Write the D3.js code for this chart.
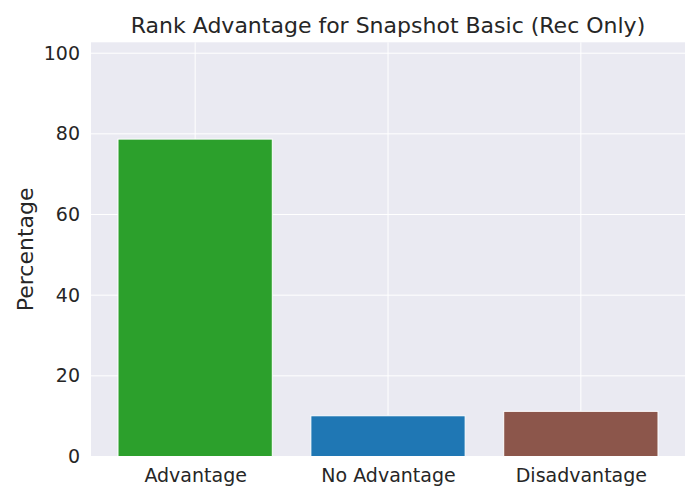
<!DOCTYPE html>
<html>
<head>
<meta charset="utf-8">
<script src="https://cdn.jsdelivr.net/npm/d3@7"></script>
<style>
  body { margin: 0; background: #fff; }
  text { font-family: "DejaVu Sans", sans-serif; fill: #262626; }
</style>
</head>
<body>
<div id="vis"></div>
<script>
var categories = ['Advantage', 'No Advantage', 'Disadvantage'];
var values = [78.7, 10.1, 11.2];
var colors = ['#2ca02c', '#1f77b4', '#8c564b'];
var yTicks = [0, 20, 40, 60, 80, 100];
var yMax = 102.7;

var width = 700, height = 500;
var margin = {left: 91, right: 15, top: 42.3, bottom: 43.5};

var svg = d3.select('#vis').append('svg')
    .attr('width', width)
    .attr('height', height);

// x like matplotlib: bars of width 0.8 at 0,1,2 with 5% margins
var x = d3.scaleLinear()
    .domain([-0.54, categories.length - 1 + 0.54])
    .range([margin.left, width - margin.right]);

var y = d3.scaleLinear()
    .domain([0, yMax])
    .range([height - margin.bottom, margin.top]);

svg.append('rect')
    .attr('x', margin.left)
    .attr('y', margin.top)
    .attr('width', width - margin.left - margin.right)
    .attr('height', height - margin.top - margin.bottom)
    .attr('fill', '#eaeaf2');

// grid
var grid = svg.append('g').attr('stroke', '#fff').attr('stroke-width', 1);
grid.selectAll('.hg').data(yTicks).enter().append('line')
    .attr('x1', margin.left).attr('x2', width - margin.right)
    .attr('y1', function (d) { return y(d); })
    .attr('y2', function (d) { return y(d); });
grid.selectAll('.vg').data(categories).enter().append('line')
    .attr('y1', margin.top).attr('y2', height - margin.bottom)
    .attr('x1', function (d, i) { return x(i); })
    .attr('x2', function (d, i) { return x(i); });

// bars
svg.append('g').selectAll('rect')
    .data(values).enter().append('rect')
    .attr('x', function (d, i) { return x(i - 0.4); })
    .attr('width', function (d, i) { return x(i + 0.4) - x(i - 0.4); })
    .attr('y', function (d) { return y(d); })
    .attr('height', function (d) { return y(0) - y(d); })
    .attr('fill', function (d, i) { return colors[i]; })
    .attr('stroke', '#fff')
    .attr('stroke-width', 1);

// axes
var yAxis = svg.append('g')
    .attr('transform', 'translate(' + margin.left + ',0)')
    .call(d3.axisLeft(y).tickValues(yTicks).tickSize(0).tickPadding(11));
yAxis.select('.domain').remove();
yAxis.selectAll('text').style('font-size', '19px').attr('font-family', null);

var xAxis = svg.append('g')
    .attr('transform', 'translate(0,' + (height - margin.bottom) + ')')
    .call(d3.axisBottom(x).tickValues([0, 1, 2])
        .tickFormat(function (d) { return categories[d]; })
        .tickSize(0).tickPadding(12));
xAxis.select('.domain').remove();
xAxis.selectAll('text').style('font-size', '19px').attr('font-family', null);

svg.append('text')
    .attr('x', (margin.left + width - margin.right) / 2)
    .attr('y', 33)
    .attr('text-anchor', 'middle')
    .style('font-size', '22px')
    .text('Rank Advantage for Snapshot Basic (Rec Only)');

svg.append('text')
    .attr('transform', 'translate(33,' + ((margin.top + height - margin.bottom) / 2) + ') rotate(-90)')
    .attr('text-anchor', 'middle')
    .style('font-size', '22px')
    .text('Percentage');
</script>
</body>
</html>
